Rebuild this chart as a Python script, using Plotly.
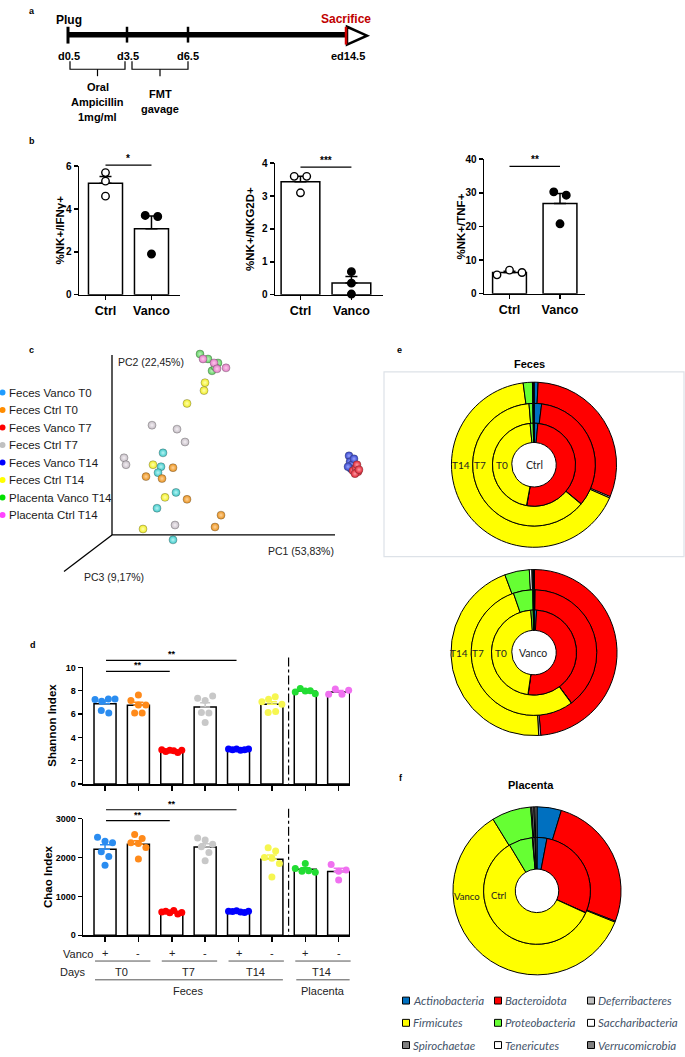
import numpy as np
import plotly.graph_objects as go

W, H = 685, 1057
SANS = "Liberation Sans, Arial, sans-serif"
HUM = "Lato, Open Sans, sans-serif"

# ---------------- data ----------------
# panel b
b_labels = ["Ctrl", "Vanco"]
ifng_ctrl = [5.7, 5.3, 4.6]
ifng_vanco = [3.7, 3.65, 1.9]
nkg2d_ctrl = [3.6, 3.6, 3.1]
nkg2d_vanco = [0.7, 0.35, 0.02]
tnf_ctrl = [5.6, 7.0, 6.3]
tnf_vanco = [30.3, 29.3, 20.8]

# panel c (PCA scores)
pca_labels = ["Feces Vanco T0", "Feces Ctrl T0", "Feces Vanco T7", "Feces Ctrl T7",
              "Feces Vanco T14", "Feces Ctrl T14", "Placenta Vanco T14", "Placenta Ctrl T14"]
pc1_fv0 = [0.51, 0.49, 0.46, 0.64, 0.45, 0.61]
pc2_fv0 = [0.83, 0.69, 0.63, 0.43, 0.27, -0.05]
pc1_fc0 = [0.61, 0.34, 0.50, 0.75, 1.09, 1.03]
pc2_fc0 = [0.68, 0.59, 0.57, 0.36, 0.20, 0.08]
pc1_fv7 = [2.41, 2.44, 2.46, 2.43, 2.45, 2.47]
pc2_fv7 = [0.65, 0.68, 0.64, 0.62, 0.71, 0.66]
pc1_fc7 = [0.40, 0.65, 0.73, 0.12, 0.14, 0.63]
pc2_fc7 = [1.11, 1.07, 0.94, 0.78, 0.71, 0.10]
pc1_fv14 = [2.37, 2.38, 2.40, 2.39, 2.42, 2.36]
pc2_fv14 = [0.80, 0.74, 0.71, 0.67, 0.77, 0.69]
pc1_fc14 = [0.93, 0.92, 0.75, 0.41, 0.53, 0.31]
pc2_fc14 = [1.54, 1.46, 1.33, 0.71, 0.38, 0.06]
pc1_pv14 = [0.88, 1.06, 1.00, 1.03, 0.96]
pc2_pv14 = [1.83, 1.74, 1.66, 1.70, 1.78]
pc1_pc14 = [0.91, 1.02, 1.05, 1.14]
pc2_pc14 = [1.78, 1.74, 1.68, 1.69]

# panel d
shannon_fv0 = [7.25, 7.1, 7.3, 7.3, 6.3, 6.1]
shannon_fc0 = [7.63, 7.17, 6.78, 6.78, 6.1, 6.1]
shannon_fv7 = [2.95, 2.8, 2.9, 2.85, 2.7, 2.9]
shannon_fc7 = [7.35, 7.17, 7.54, 6.13, 6.1, 5.28]
shannon_fv14 = [3.0, 2.95, 3.0, 2.9, 2.95, 3.0]
shannon_fc14 = [7.06, 7.26, 7.49, 6.84, 6.13, 6.21]
shannon_pv14 = [7.9, 8.2, 7.97, 8.0, 7.75]
shannon_pc14 = [7.7, 8.15, 7.7, 8.05]
chao_fv0 = [2520, 2420, 2380, 2150, 2030, 1800]
chao_fc0 = [2590, 2490, 2380, 2360, 2260, 1960]
chao_fv7 = [600, 620, 580, 640, 550, 590]
chao_fc7 = [2500, 2450, 2340, 2280, 2130, 1920]
chao_fv14 = [620, 610, 630, 600, 590, 620]
chao_fc14 = [2250, 2170, 2000, 1980, 1850, 1500]
chao_pv14 = [1850, 1720, 1650, 1660, 1620]
chao_pc14 = [1820, 1650, 1680, 1420]
vanco_signs = ["+", "-", "+", "-", "+", "-", "+", "-"]
day_labels = ["T0", "T7", "T14", "T14"]
site_labels = ["Feces", "Placenta"]

# panels e/f (relative abundance, %)
phyla = ["Actinobacteria", "Bacteroidota", "Deferribacteres", "Firmicutes", "Proteobacteria",
         "Saccharibacteria", "Spirochaetae", "Tenericutes", "Verrucomicrobia"]
feces_ctrl_T0 = [1.5, 51.3, 0.1, 45.6, 1.2, 0.1, 0.1, 0.05, 0.05]
feces_ctrl_T7 = [2.0, 34.0, 0.1, 62.6, 1.0, 0.1, 0.1, 0.05, 0.05]
feces_ctrl_T14 = [0.8, 30.5, 0.3, 66.3, 1.8, 0.1, 0.1, 0.05, 0.05]
feces_vanco_T0 = [1.0, 51.2, 0.1, 46.5, 0.9, 0.1, 0.1, 0.05, 0.05]
feces_vanco_T7 = [0.3, 39.5, 0.1, 54.8, 5.0, 0.1, 0.1, 0.05, 0.05]
feces_vanco_T14 = [0.1, 48.6, 0.4, 45.2, 4.8, 0.5, 0.2, 0.1, 0.1]
placenta_ctrl = [3.0, 28.7, 0.1, 59.6, 7.2, 0.2, 0.6, 0.2, 0.4]
placenta_vanco = [4.7, 26.3, 0.2, 60.4, 7.6, 0.2, 0.4, 0.2, 0.4]

# ---------------- styles ----------------
phylum_colors = ["#0070c0", "#ff0000", "#bfbfbf", "#ffff00", "#66ff33",
                 "#ffffff", "#7f7f7f", "#ffffff", "#808080"]
pca_legend_colors = ["#1e9bff", "#ff8c00", "#ff0000", "#c0c0c0", "#0000ff", "#ffff00", "#00e000", "#ff44ff"]
pca_point_colors = ["#3cc8c8", "#e8901c", "#e02030", "#c4bcc4", "#3040c8", "#f0ec20", "#5ccc5c", "#e07cc4"]
pca_grad_colors = ["#b8f4f4", "#ffd49a", "#ff9ca4", "#f4f0f4", "#9aa4ff", "#ffffb0", "#c0f4c0", "#ffc8ec"]
d_colors = ["#2a8cf0", "#ff8a1a", "#ff0000", "#c8c8c8", "#0000ff", "#f6f650", "#22dd33", "#f070f0"]

fig = go.Figure()
ann, shapes = [], []


def fx(x):
    return x / W


def fy(y):
    return 1 - y / H


def T(x, y, text, size=11, color="black", bold=False, italic=False, family=SANS,
      xanchor="center", yanchor="middle", angle=0):
    font = dict(family=family, size=size, color=color)
    if bold:
        font["weight"] = "bold"
    if italic:
        font["style"] = "italic"
    ann.append(dict(x=fx(x), y=fy(y), xref="paper", yref="paper", text=text, showarrow=False,
                    font=font, xanchor=xanchor, yanchor=yanchor, textangle=angle, borderpad=0))


def L(x0, y0, x1, y1, w=1.5, color="black", dash="solid"):
    shapes.append(dict(type="line", xref="paper", yref="paper", x0=fx(x0), y0=fy(y0),
                       x1=fx(x1), y1=fy(y1), line=dict(color=color, width=w, dash=dash)))


def P(pts, w=1.5, color="black", fill=None, close=False):
    d = "M " + " L ".join(f"{fx(a):.5f} {fy(b):.5f}" for a, b in pts)
    if close:
        d += " Z"
    s = dict(type="path", xref="paper", yref="paper", path=d, line=dict(color=color, width=w))
    if fill:
        s["fillcolor"] = fill
    shapes.append(s)


class Sub:
    def __init__(self, n, x0, x1, ybot, ytop, xr, yr):
        self.n, self.x0, self.x1, self.ybot, self.ytop, self.xr, self.yr = n, x0, x1, ybot, ytop, xr, yr
        self.xa = "x" if n == 1 else f"x{n}"
        self.ya = "y" if n == 1 else f"y{n}"
        self.xkey = "xaxis" if n == 1 else f"xaxis{n}"
        self.ykey = "yaxis" if n == 1 else f"yaxis{n}"

    def px(self, v):
        return self.x0 + (v - self.xr[0]) / (self.xr[1] - self.xr[0]) * (self.x1 - self.x0)

    def py(self, v):
        return self.ybot + (v - self.yr[0]) / (self.yr[1] - self.yr[0]) * (self.ytop - self.ybot)

    def xunit(self):
        return (self.x1 - self.x0) / (self.xr[1] - self.xr[0])

    def yunit(self):
        return (self.ybot - self.ytop) / (self.yr[1] - self.yr[0])


layout_axes = {}


def add_axes(s, xstyle, ystyle):
    layout_axes[s.xkey] = dict(domain=[fx(s.x0), fx(s.x1)], range=list(s.xr), anchor=s.ya,
                               showgrid=False, zeroline=False, **xstyle)
    layout_axes[s.ykey] = dict(domain=[fy(s.ybot), fy(s.ytop)], range=list(s.yr), anchor=s.xa,
                               showgrid=False, zeroline=False, **ystyle)


def sem(v):
    v = np.asarray(v, float)
    return v.std(ddof=1) / np.sqrt(len(v))


def swarm(vals, upx, thresh, spacing, maxw, xunit):
    vals = np.asarray(vals, float)
    order = list(np.argsort(vals, kind="stable"))
    offs = np.zeros(len(vals))
    rows, cur = [], [order[0]]
    for k in order[1:]:
        if (vals[k] - vals[cur[0]]) * upx < thresh:
            cur.append(k)
        else:
            rows.append(cur)
            cur = [k]
    rows.append(cur)
    for r in rows:
        r = sorted(r)
        n = len(r)
        if n > 1:
            sp = min(spacing, maxw / (n - 1))
            for j, k in enumerate(r):
                offs[k] = (j - (n - 1) / 2) * sp / xunit
    return offs


# ---------------- panel a : timeline ----------------
T(32, 5, "a", size=9, bold=True)
L(68, 29, 348, 29, w=5.5)
L(68, 21, 68, 38, w=3)
L(127, 21, 127, 37, w=2.5)
L(188, 21, 188, 37, w=2.5)
P([(347, 21), (367, 30), (347, 39)], w=2.5, fill="white", close=True)
L(346, 21, 346, 39, w=2.5, color="#d00000")
T(69, 14, "Plug", size=12, bold=True)
T(346, 13, "Sacrifice", size=12, bold=True, color="#c00000")
T(69, 51, "d0.5", size=11, bold=True)
T(128, 51, "d3.5", size=11, bold=True)
T(188, 51, "d6.5", size=11, bold=True)
T(348, 51, "ed14.5", size=11, bold=True)
P([(70, 56), (70, 64), (125, 64), (125, 56)], w=1.2)
L(97.5, 64, 97.5, 71, w=1.2)
P([(132, 56), (132, 64), (188, 64), (188, 56)], w=1.2)
L(160, 64, 160, 71, w=1.2)
T(98, 82, "Oral", size=11, bold=True)
T(98, 97, "Ampicillin", size=11, bold=True)
T(98, 112, "1mg/ml", size=11, bold=True)
T(160, 89, "FMT", size=11, bold=True)
T(160, 104, "gavage", size=11, bold=True)

# ---------------- panel b ----------------
T(32, 137, "b", size=9, bold=True)
b_specs = [
    dict(n=1, c=ifng_ctrl, v=ifng_vanco, x0=79, x1=180, ybot=292, ytop=162, xr=(-0.576, 1.62),
         yr=(0, 6), tv=[0, 2, 4, 6], w=0.74, title="%NK+/IFNγ+", tx=60, sig="*", sy=6.05),
    dict(n=2, c=nkg2d_ctrl, v=nkg2d_vanco, x0=275, x1=383, ybot=292, ytop=159, xr=(-0.5, 1.62),
         yr=(0, 4), tv=[0, 1, 2, 3, 4], w=0.76, title="%NK+/NKG2D+", tx=250, sig="***", sy=3.88),
    dict(n=3, c=tnf_ctrl, v=tnf_vanco, x0=484, x1=585, ybot=291, ytop=155, xr=(-0.505, 1.495),
         yr=(0, 40), tv=[0, 10, 20, 30, 40], w=0.67, title="%NK+/TNF+", tx=461, sig="**", sy=37.9),
]
for sp in b_specs:
    s = Sub(sp["n"], sp["x0"], sp["x1"], sp["ybot"], sp["ytop"], sp["xr"], sp["yr"])
    add_axes(s,
             dict(showline=True, linewidth=1.5, linecolor="black", ticks="outside", ticklen=4,
                  tickwidth=1.5, tickcolor="black", tickvals=[0, 1], ticktext=b_labels,
                  tickfont=dict(family=SANS, size=12.5, color="black", weight="bold")),
             dict(showline=True, linewidth=1.5, linecolor="black", ticks="outside", ticklen=4,
                  tickwidth=1.5, tickcolor="black", tickvals=sp["tv"],
                  tickfont=dict(family=SANS, size=10, color="black", weight="bold")))
    means = [np.mean(sp["c"]), np.mean(sp["v"])]
    sems = [sem(sp["c"]), sem(sp["v"])]
    fig.add_trace(go.Bar(x=[0, 1], y=means, width=sp["w"], xaxis=s.xa, yaxis=s.ya,
                         marker=dict(color="white", line=dict(color="black", width=1.5)),
                         error_y=dict(type="data", symmetric=False, array=sems, arrayminus=[0, 0],
                                      color="black", thickness=1.5, width=6),
                         hoverinfo="skip", showlegend=False))
    for i, (vals, face) in enumerate([(sp["c"], "white"), (sp["v"], "black")]):
        offs = swarm(vals, s.yunit(), 8, 12.5, 30, s.xunit())
        fig.add_trace(go.Scatter(x=i + offs, y=vals, mode="markers", xaxis=s.xa, yaxis=s.ya,
                                 marker=dict(size=7.5, color=face, line=dict(color="black", width=1.4)),
                                 cliponaxis=False, hoverinfo="skip", showlegend=False))
    L(s.px(0), s.py(sp["sy"]), s.px(1), s.py(sp["sy"]), w=1.3)
    T((s.px(0) + s.px(1)) / 2, s.py(sp["sy"]) - 7, sp["sig"], size=10, bold=True)
    T(sp["tx"], (sp["ybot"] + sp["ytop"]) / 2, sp["title"], size=11.5, bold=True, angle=-90)

# ---------------- panel c : PCA ----------------
T(32, 348, "c", size=9, bold=True)
spca = Sub(4, 112, 370, 545, 340, (0, 2.58), (-0.10, 1.95))
add_axes(spca, dict(visible=False), dict(visible=False))
L(112, 353, 112, 535, w=1.3)
L(112, 535, 335, 535, w=1.3)
L(112, 535, 64, 572, w=1.3)
T(117, 360, "PC2 (22,45%)", size=10.5, color="#222", xanchor="left")
T(335, 551, "PC1 (53,83%)", size=10.5, color="#222", xanchor="right")
T(83, 578, "PC3 (9,17%)", size=10.5, color="#222", xanchor="left")
pca_data = [(pc1_fv0, pc2_fv0), (pc1_fc0, pc2_fc0), (pc1_fv14, pc2_fv14), (pc1_fv7, pc2_fv7),
            (pc1_fc7, pc2_fc7), (pc1_fc14, pc2_fc14), (pc1_pv14, pc2_pv14), (pc1_pc14, pc2_pc14)]
pca_idx = [0, 1, 4, 2, 3, 5, 6, 7]
for (a, b), gi in zip(pca_data, pca_idx):
    fig.add_trace(go.Scatter(x=a, y=b, mode="markers", xaxis=spca.xa, yaxis=spca.ya,
                             marker=dict(size=8, color=pca_point_colors[gi],
                                         gradient=dict(type="radial", color=pca_grad_colors[gi]),
                                         line=dict(color="rgba(60,60,60,0.55)", width=0.6)),
                             cliponaxis=False, hoverinfo="skip", showlegend=False))
for i, (lab, col) in enumerate(zip(pca_labels, pca_legend_colors)):
    yy = 391 + i * 17.7
    shapes.append(dict(type="circle", xref="paper", yref="paper", x0=fx(-0.5), x1=fx(5.5),
                       y0=fy(yy + 3), y1=fy(yy - 3), fillcolor=col, line=dict(width=0)))
    T(8, yy, lab, size=11.5, color="#1a1a1a", xanchor="left")

# ---------------- panel d ----------------
T(33, 646, "d", size=9, bold=True)
shannon_groups = [shannon_fv0, shannon_fc0, shannon_fv7, shannon_fc7,
                  shannon_fv14, shannon_fc14, shannon_pv14, shannon_pc14]
chao_groups = [chao_fv0, chao_fc0, chao_fv7, chao_fc7, chao_fv14, chao_fc14, chao_pv14, chao_pc14]
d_specs = [
    dict(n=5, groups=shannon_groups, ybot=787, ytop=669, yr=(0, 10), tv=[0, 2, 4, 6, 8, 10],
         title="Shannon Index", tx=52, sig=[(0, 2, 9.66), (0, 4, 10.6)]),
    dict(n=6, groups=chao_groups, ybot=940, ytop=822, yr=(0, 3000), tv=[0, 1000, 2000, 3000],
         title="Chao Index", tx=48, sig=[(0, 2, 2949), (0, 4, 3229)]),
]
xs = np.arange(8)
for sp in d_specs:
    s = Sub(sp["n"], 83, 350, sp["ybot"], sp["ytop"], (-0.66, 7.34), sp["yr"])
    add_axes(s,
             dict(showline=True, linewidth=1.5, linecolor="black", ticks="outside", ticklen=5,
                  tickwidth=1.5, tickcolor="black", tickvals=list(xs), showticklabels=False),
             dict(showline=True, linewidth=1.5, linecolor="black", ticks="outside", ticklen=4,
                  tickwidth=1.5, tickcolor="black", tickvals=sp["tv"],
                  tickfont=dict(family=SANS, size=9, color="black", weight="bold")))
    means = [np.mean(g) for g in sp["groups"]]
    fig.add_trace(go.Bar(x=xs, y=means, width=0.66, xaxis=s.xa, yaxis=s.ya,
                         marker=dict(color="white", line=dict(color="black", width=1.5)),
                         hoverinfo="skip", showlegend=False))
    for i, g in enumerate(sp["groups"]):
        fig.add_trace(go.Scatter(x=[i], y=[np.mean(g)], mode="markers", xaxis=s.xa, yaxis=s.ya,
                                 marker=dict(size=1, opacity=0),
                                 error_y=dict(type="data", symmetric=False, array=[sem(g)],
                                              arrayminus=[0], color=d_colors[i], thickness=1.5, width=5),
                                 hoverinfo="skip", showlegend=False))
        offs = swarm(g, s.yunit(), 8, 7.5, 20, s.xunit())
        fig.add_trace(go.Scatter(x=i + offs, y=g, mode="markers", xaxis=s.xa, yaxis=s.ya,
                                 marker=dict(size=7, color=d_colors[i], line=dict(width=0)),
                                 cliponaxis=False, hoverinfo="skip", showlegend=False))
    for a, b, v in sp["sig"]:
        yv = s.py(v)
        L(s.px(a) + 1, yv, s.px(b) - 2, yv, w=1.2)
        T((s.px(a) + s.px(b)) / 2, yv - 6, "**", size=9, bold=True)
    L(s.px(5.5), sp["ytop"] - 10, s.px(5.5), sp["ybot"], w=1.2, dash="dashdot")
    T(sp["tx"], (sp["ybot"] + sp["ytop"]) / 2, sp["title"], size=11.5, bold=True, angle=-90)
    if sp["n"] == 6:
        for i, sg in enumerate(vanco_signs):
            T(s.px(i), 958, sg, size=11, color="#222")
        T(94, 959, "Vanco", size=11, color="#222", xanchor="right")
        T(87, 977, "Days", size=11, color="#222", xanchor="right")
        for k, lab in enumerate(day_labels):
            a, b = 2 * k, 2 * k + 1
            L(s.px(a) - 10, 966, s.px(b) + 12, 966, w=1, color="#555")
            T((s.px(a) + s.px(b)) / 2, 977, lab, size=11, color="#222")
        L(s.px(0) - 10, 985, s.px(5) + 11, 985, w=1, color="#555")
        L(s.px(6) - 9, 985, s.px(7) + 11, 985, w=1, color="#555")
        T((s.px(0) + s.px(5)) / 2, 996, site_labels[0], size=11, color="#222")
        T((s.px(6) + s.px(7)) / 2 + 1, 996, site_labels[1], size=11, color="#222")

# ---------------- panels e / f : ring charts ----------------
def ring(vals, cx, cy, r_out, r_in):
    fig.add_trace(go.Pie(values=vals, labels=phyla, sort=False, direction="clockwise", rotation=0,
                         hole=r_in / r_out, textinfo="none", hoverinfo="skip", showlegend=False,
                         marker=dict(colors=phylum_colors, line=dict(color="black", width=1)),
                         domain=dict(x=[fx(cx - r_out), fx(cx + r_out)],
                                     y=[fy(cy + r_out), fy(cy - r_out)])))


T(399, 348, "e", size=9, bold=True)
T(529, 362, "Feces", size=11, bold=True)
shapes.append(dict(type="rect", xref="paper", yref="paper", x0=fx(384), x1=fx(684), y0=fy(557),
                   y1=fy(370), line=dict(color="#dde2e8", width=1.2)))
ring(feces_ctrl_T14, 534, 464, 83.5, 62)
ring(feces_ctrl_T7, 534, 464, 62, 42)
ring(feces_ctrl_T0, 534, 464, 42, 22.5)
for x, lab in [(461, "T14"), (480, "T7"), (502, "T0"), (534, "Ctrl")]:
    T(x, 464, lab, size=10.5 if lab == "Ctrl" else 10, family=HUM, color="#222")
ring(feces_vanco_T14, 534, 654, 84, 63.5)
ring(feces_vanco_T7, 534, 654, 63.5, 43)
ring(feces_vanco_T0, 534, 654, 43, 22.5)
for x, lab in [(459, "T14"), (478, "T7"), (501, "T0"), (533, "Vanco")]:
    T(x, 654, lab, size=10.5 if lab == "Vanco" else 10, family=HUM, color="#222")

T(401, 781, "f", size=9, bold=True)
T(531, 788, "Placenta", size=11, bold=True)
ring(placenta_vanco, 537, 895, 85, 54)
ring(placenta_ctrl, 537, 895, 54, 22)
T(467, 901, "Vanco", size=9.5, family=HUM, color="#222")
T(499, 900, "Ctrl", size=9.5, family=HUM, color="#222")

# phylum legend
for i, (lab, col) in enumerate(zip(phyla, phylum_colors)):
    r, c = divmod(i, 3)
    yy = 1006 + r * 22.5
    mx = [406, 498, 591][c]
    shapes.append(dict(type="rect", xref="paper", yref="paper", x0=fx(mx - 3.5), x1=fx(mx + 3.5),
                       y0=fy(yy + 3.5), y1=fy(yy - 3.5), fillcolor=col, line=dict(color="black", width=1)))
    T(mx + 5.5, yy, lab, size=11.5, italic=True, family=HUM, color="#44546a", xanchor="left")

fig.update_layout(width=W, height=H, margin=dict(l=0, r=0, t=0, b=0), paper_bgcolor="white",
                  plot_bgcolor="rgba(0,0,0,0)", showlegend=False, annotations=ann, shapes=shapes,
                  barmode="overlay", font=dict(family=SANS, color="black"), **layout_axes)
fig.write_html("out.html", config={"displayModeBar": False, "staticPlot": True},
               post_script="document.body.style.margin='0';document.body.style.overflow='hidden';")
